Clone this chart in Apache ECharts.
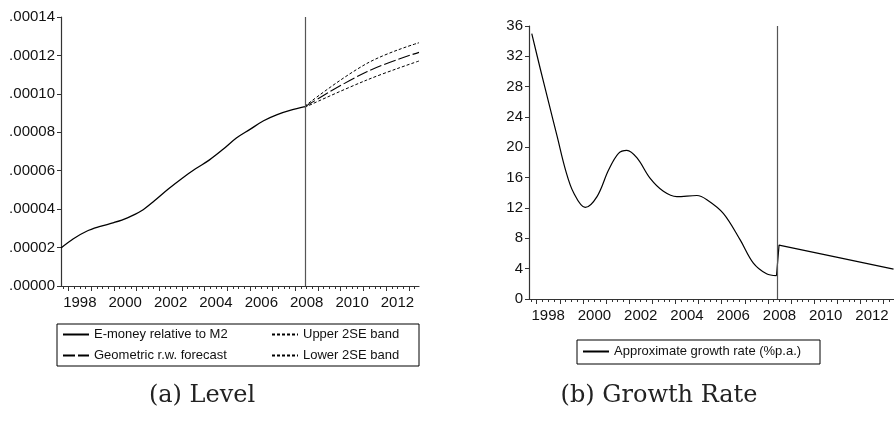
<!DOCTYPE html>
<html>
<head>
<meta charset="utf-8">
<script src="https://cdn.jsdelivr.net/npm/echarts@6/dist/echarts.min.js"></script>
<style>
  html, body { margin: 0; background: #fff; }
  #chart { width: 894px; height: 424px; }
</style>
</head>
<body>
<div id="chart"></div>
<script>
// x values are fractional years
const xMin = 1997.67
const xMax = 2013.45
const breakYear = 2008.42
const labelYears = [1998, 2000, 2002, 2004, 2006, 2008, 2010, 2012]

// (a) level: e-money relative to M2
const levelHist = [
  [1997.67, 1.98e-5], [1998.2, 2.45e-5], [1998.8, 2.85e-5], [1999.4, 3.10e-5],
  [2000.0, 3.30e-5], [2000.6, 3.55e-5], [2001.2, 3.90e-5], [2001.8, 4.45e-5],
  [2002.4, 5.05e-5], [2003.0, 5.60e-5], [2003.6, 6.10e-5], [2004.2, 6.55e-5],
  [2004.8, 7.10e-5], [2005.4, 7.70e-5], [2006.0, 8.15e-5], [2006.6, 8.60e-5],
  [2007.2, 8.92e-5], [2007.8, 9.15e-5], [2008.42, 9.33e-5]
]
const levelForecast = [[2008.42, 9.33e-5], [2011.15, 11.15e-5], [2013.45, 12.16e-5]]
const levelUpper = [[2008.42, 9.36e-5], [2011.15, 11.58e-5], [2013.45, 12.66e-5]]
const levelLower = [[2008.42, 9.30e-5], [2011.15, 10.72e-5], [2013.45, 11.71e-5]]

// (b) approximate growth rate, % p.a.
const growthHist = [
  [1997.79, 35.0], [1998.17, 30.2], [1998.53, 25.8], [1998.89, 21.4], [1999.25, 17.0],
  [1999.60, 14.0], [2000.10, 12.07], [2000.61, 13.5], [2001.11, 17.0], [2001.54, 19.2],
  [2001.90, 19.6], [2002.34, 18.6], [2002.91, 15.9], [2003.48, 14.2], [2004.06, 13.5],
  [2004.93, 13.65], [2005.36, 13.1], [2006.07, 11.3], [2006.80, 7.8], [2007.37, 4.74],
  [2007.94, 3.33], [2008.37, 3.07]
]
const growthForecast = [[2008.37, 3.07], [2008.48, 7.1], [2010.96, 5.53], [2013.43, 3.95]]

const yearTicks = []
for (let y = 1998; y <= 2013; y += 1) yearTicks.push(y)
const quarterTicks = []
for (let q = 1997.75; q <= 2013.3; q += 0.25) quarterTicks.push(q)

const axisColor = '#333'
const sans = 'Liberation Sans, Arial, sans-serif'

const mainX = (gridIndex) => ({
  type: 'value',
  gridIndex,
  position: 'bottom',
  min: xMin,
  max: xMax,
  axisLine: { show: true, onZero: false, lineStyle: { color: axisColor, width: 1.2 } },
  axisTick: { show: true, customValues: yearTicks, length: 5, lineStyle: { color: axisColor } },
  axisLabel: {
    customValues: labelYears.map((y) => y + 0.5),
    formatter: (v) => String(Math.floor(v)),
    color: '#111',
    fontFamily: sans,
    fontSize: 15,
    margin: 9
  },
  splitLine: { show: false }
})

const quarterX = (gridIndex) => ({
  type: 'value',
  gridIndex,
  position: 'bottom',
  min: xMin,
  max: xMax,
  axisLine: { show: false, onZero: false },
  axisTick: { show: true, customValues: quarterTicks, length: 3, lineStyle: { color: axisColor } },
  axisLabel: { show: false },
  splitLine: { show: false }
})

const yBase = {
  type: 'value',
  axisLine: { show: true, lineStyle: { color: axisColor, width: 1.2 } },
  axisTick: { show: true, length: 4, lineStyle: { color: axisColor } },
  splitLine: { show: false }
}

const vline = {
  silent: true,
  symbol: ['none', 'none'],
  label: { show: false },
  lineStyle: { color: '#555', width: 1.2, type: 'solid' },
  data: [{ xAxis: breakYear }]
}

const legendBase = {
  orient: 'vertical',
  selectedMode: false,
  padding: 0,
  itemWidth: 26,
  itemHeight: 14,
  itemGap: 8,
  itemStyle: { opacity: 0 },
  textStyle: { color: '#111', fontFamily: sans, fontSize: 13 }
}

const chart = echarts.init(document.getElementById('chart'))

chart.setOption({
  animation: false,
  backgroundColor: '#fff',
  grid: [
    { left: 61, top: 17, right: 475, bottom: 138 },
    { left: 529, top: 26, right: 0, bottom: 125 }
  ],
  xAxis: [mainX(0), quarterX(0), mainX(1), quarterX(1)],
  yAxis: [
    {
      ...yBase,
      gridIndex: 0,
      min: 0,
      max: 0.00014,
      interval: 0.00002,
      axisLabel: {
        color: '#111',
        fontFamily: sans,
        fontSize: 15,
        margin: 6,
        formatter: (v) => v.toFixed(5).replace(/^0/, '')
      }
    },
    {
      ...yBase,
      gridIndex: 1,
      min: 0,
      max: 36,
      interval: 4,
      axisLabel: { color: '#111', fontFamily: sans, fontSize: 15, margin: 6 }
    }
  ],
  legend: [
    { ...legendBase, left: 62, top: 328, data: ['E-money relative to M2', 'Geometric r.w. forecast'] },
    { ...legendBase, left: 271, top: 328, data: ['Upper 2SE band', 'Lower 2SE band'] },
    { ...legendBase, left: 582, top: 345, data: ['Approximate growth rate (%p.a.)'] }
  ],
  graphic: [
    { type: 'rect', shape: { x: 57, y: 324, width: 362, height: 42 }, style: { fill: 'none', stroke: '#000', lineWidth: 1 } },
    { type: 'rect', shape: { x: 577, y: 340, width: 243, height: 24 }, style: { fill: 'none', stroke: '#000', lineWidth: 1 } },
    {
      type: 'text', x: 202, y: 396,
      style: { text: '(a) Level', fill: '#222', font: '24px "DejaVu Serif", serif', textAlign: 'center', textVerticalAlign: 'middle' }
    },
    {
      type: 'text', x: 659, y: 396,
      style: { text: '(b) Growth Rate', fill: '#222', font: '24px "DejaVu Serif", serif', textAlign: 'center', textVerticalAlign: 'middle' }
    }
  ],
  series: [
    {
      name: 'E-money relative to M2',
      type: 'line',
      xAxisIndex: 0,
      yAxisIndex: 0,
      smooth: 0.35,
      symbol: 'none',
      lineStyle: { color: '#000', width: 1.3 },
      itemStyle: { color: '#000' },
      markLine: vline,
      data: levelHist
    },
    {
      name: 'Geometric r.w. forecast',
      type: 'line',
      xAxisIndex: 0,
      yAxisIndex: 0,
      smooth: 0.4,
      symbol: 'none',
      lineStyle: { color: '#000', width: 1.1, type: [12, 3] },
      itemStyle: { color: '#000' },
      data: levelForecast
    },
    {
      name: 'Upper 2SE band',
      type: 'line',
      xAxisIndex: 0,
      yAxisIndex: 0,
      smooth: 0.4,
      symbol: 'none',
      lineStyle: { color: '#000', width: 1, type: [3, 2] },
      itemStyle: { color: '#000' },
      data: levelUpper
    },
    {
      name: 'Lower 2SE band',
      type: 'line',
      xAxisIndex: 0,
      yAxisIndex: 0,
      smooth: 0.4,
      symbol: 'none',
      lineStyle: { color: '#000', width: 1, type: [3, 2] },
      itemStyle: { color: '#000' },
      data: levelLower
    },
    {
      name: 'Approximate growth rate (%p.a.)',
      type: 'line',
      xAxisIndex: 2,
      yAxisIndex: 1,
      smooth: 0.35,
      symbol: 'none',
      lineStyle: { color: '#000', width: 1.2 },
      itemStyle: { color: '#000' },
      markLine: vline,
      data: growthHist
    },
    {
      name: 'Approximate growth rate (%p.a.)',
      type: 'line',
      xAxisIndex: 2,
      yAxisIndex: 1,
      smooth: false,
      symbol: 'none',
      lineStyle: { color: '#000', width: 1.2 },
      itemStyle: { color: '#000' },
      data: growthForecast
    }
  ]
})
</script>
</body>
</html>
